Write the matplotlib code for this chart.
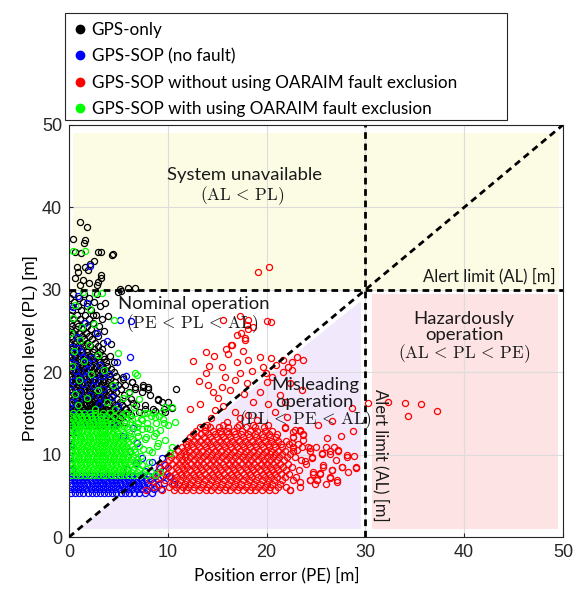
"""Stanford-style integrity diagram: PE vs PL for GPS-only and GPS-SOP."""
import numpy as np
import matplotlib
matplotlib.use("Agg")
import matplotlib.pyplot as plt
from matplotlib.lines import Line2D
from matplotlib.patches import Polygon, Rectangle

plt.rcParams["mathtext.fontset"] = "cm"

AL = 30.0
labels = [
    "GPS-only",
    "GPS-SOP (no fault)",
    "GPS-SOP without using OARAIM fault exclusion",
    "GPS-SOP with using OARAIM fault exclusion",
]
colors = ["black", "#0000ff", "#ff0000", "#00ff00"]

# dense parts of each cloud, read row by row: "PL: PE PE PE ..."
gps_only_rows = """
8.0: 0.1
9.0: 0.2
10.0: 0.1
11.0: 0.2
12.0: 0.1
13.0: 0.3
13.6: 0.2 0.6 1.1 1.6 2.0 2.5 3.0 3.5 4.1 4.8
14.0: 0.1 0.5 0.9 1.4 1.8 2.3 2.8 3.2 3.7 4.3 5.0 5.6
14.4: 0.3 0.7 1.2 1.6 2.1 2.5 3.0 3.4 3.9 4.5 5.2
14.8: 0.1 0.5 1.0 1.4 1.9 2.3 2.8 3.2 3.7 4.2 4.8 5.5 6.3
15.2: 0.3 0.7 1.2 1.6 2.1 2.5 3.0 3.5 4.0 4.6 5.3 6.0 7.1
15.6: 0.1 0.6 1.0 1.5 1.9 2.4 2.8 3.3 3.8 4.4 5.0 5.8 7.7 8.5 9.6
16.0: 0.3 0.8 1.2 1.7 2.1 2.6 3.0 3.5 4.1 4.7 5.4 6.8 7.7
16.4: 0.2 0.6 1.1 1.5 2.0 2.4 2.9 3.3 3.9 4.4 5.2 5.9 9.4 10.0
16.8: 0.4 0.8 1.3 1.7 2.2 2.6 3.1 3.6 4.2 4.9 6.3 9.0
17.2: 0.1 0.6 1.0 1.5 1.9 2.4 2.8 3.3 3.8 4.5 5.6 8.2
17.6: 0.3 0.8 1.2 1.7 2.1 2.6 3.1 3.6 4.1 4.8 6.1 7.4
18.0: 0.2 0.6 1.1 1.5 2.0 2.4 2.9 3.4 3.9 4.5 5.3 6.7 8.0 10.8
18.4: 0.4 0.9 1.3 1.8 2.2 2.7 3.2 3.7 4.3 5.0 5.7 7.5
18.8: 0.1 0.6 1.0 1.5 1.9 2.4 2.9 3.4 4.0 4.7 6.4
19.2: 0.3 0.8 1.2 1.7 2.1 2.6 3.1 3.6 4.2 5.5
19.6: 0.2 0.6 1.1 1.5 2.0 2.5 3.0 3.5 4.1 4.8
20.0: 0.4 0.9 1.3 1.8 2.3 2.8 3.3 3.9 4.6
20.4: 0.1 0.6 1.0 1.5 2.0 2.5 3.0 3.6 4.3
20.8: 0.3 0.8 1.3 1.7 2.2 2.7 3.3 3.9
21.2: 0.2 0.6 1.1 1.6 2.0 2.5 3.1 3.8 4.6
21.6: 0.4 0.9 1.4 1.9 2.4 2.9 3.6
22.0: 0.1 0.6 1.1 1.6 2.1 2.7 3.4 4.2
22.4: 0.3 0.8 1.3 1.8 2.4 3.1
22.8: 0.2 0.7 1.2 1.8 2.5 3.3
23.2: 0.4 0.9 1.5 2.1 2.9
23.6: 0.1 0.6 1.2 1.8 2.6 3.5
24.0: 0.3 0.9 1.5 2.3
24.4: 0.2 0.7 1.3 2.0 2.9
24.8: 0.4 1.0 1.7 2.6
25.2: 0.1 0.7 1.4 2.2
25.6: 0.3 0.9 1.8 3.0
26.0: 0.2 0.8 1.5 2.4
26.5: 0.4 1.1 2.0 3.3
27.0: 0.1 0.8 1.6 2.7
27.5: 0.3 1.2 2.2
28.0: 0.2 0.9 1.8 3.1
28.5: 0.5 1.4 2.5
29.0: 0.1 1.0 2.0
29.5: 0.4 1.5 2.8
"""
gps_only_extra = [
    (1.1, 38.2), (1.8, 37.6), (0.4, 36.2), (1.6, 36.0), (1.5, 35.7), (0.6, 34.6),
    (1.2, 34.5), (2.9, 34.6), (3.2, 34.6), (4.5, 34.3), (2.5, 33.5), (2.1, 33.1),
    (1.6, 32.8), (0.8, 32.8), (1.9, 32.4), (0.9, 32.2), (3.2, 31.8), (3.2, 31.4),
    (2.9, 30.9), (1.4, 31.2), (0.6, 31.4), (2.0, 30.8), (1.1, 30.6), (2.8, 30.6),
    (5.2, 30.1), (6.0, 30.2), (6.7, 30.2), (5.0, 29.7), (5.3, 29.9), (4.4, 34.2),
    (7.5, 18.2), (8.0, 18.2), (9.0, 16.6), (10.4, 15.7), (9.7, 15.2), (8.7, 15.3),
    (6.7, 18.2), (6.4, 18.8), (5.5, 19.4), (4.0, 26.8), (3.6, 25.0), (4.3, 23.4),
    (3.7, 28.4), (2.4, 26.9), (0.4, 15.4), (1.3, 15.8), (2.2, 15.5), (3.1, 15.9),
    (4.0, 15.4), (0.8, 16.2), (1.9, 16.6), (2.8, 16.1), (3.7, 16.7), (5.7, 15.6),
    (6.5, 16.3), (0.6, 14.6), (1.5, 14.2), (2.5, 14.7), (3.5, 14.1), (4.6, 14.9),
]

gps_sop_rows = """
5.4: 0.2 0.6 1.0 1.4 1.9 2.3 2.7 3.1 3.6 4.0 4.4 4.8 5.3 5.7 6.1 6.6 7.1 7.7 8.4
5.8: 0.1 0.5 0.9 1.3 1.7 2.2 2.6 3.0 3.4 3.9 4.3 4.7 5.1 5.6 6.0 6.4 6.9 7.3 7.9 8.6 9.3
6.2: 0.3 0.7 1.1 1.5 2.0 2.4 2.8 3.2 3.7 4.1 4.5 4.9 5.4 5.8 6.2 6.7 7.1 7.6 8.1 8.8
6.6: 0.2 0.6 1.0 1.4 1.8 2.3 2.7 3.1 3.5 4.0 4.4 4.8 5.2 5.7 6.1 6.5 7.0 7.4 7.9 8.5 9.6
7.0: 0.1 0.5 0.9 1.3 1.7 2.1 2.6 3.0 3.4 3.8 4.3 4.7 5.1 5.5 6.0 6.4 6.8 7.3 7.8 8.3 9.0
7.4: 0.3 0.7 1.2 1.6 2.0 2.5 2.9 3.3 3.8 4.2 4.6 5.1 5.5 5.9 6.4 6.9 7.5 8.1 8.7 9.5 10.1
"""
gps_sop_extra = [
    (2.1, 32.9), (0.8, 24.3), (5.2, 26.3), (6.3, 26.2), (6.5, 13.2), (6.9, 11.4),
    (7.4, 9.6), (8.4, 9.1), (9.4, 9.6), (9.7, 8.7), (6.2, 21.8), (4.7, 18.2),
    (0.3, 23.1), (1.2, 22.4), (2.3, 21.7), (0.6, 21.0), (1.7, 20.3), (3.1, 20.9),
    (0.9, 19.6), (2.6, 19.1), (4.1, 19.8), (1.4, 18.6), (3.4, 18.0), (0.2, 17.8),
    (2.1, 17.3), (4.4, 17.0), (1.0, 16.7), (3.0, 16.2), (5.0, 15.9), (0.5, 15.5),
    (1.9, 15.0), (3.7, 14.6), (2.6, 14.2), (1.3, 13.8), (4.6, 13.6), (0.7, 12.8),
    (5.5, 12.3), (6.2, 10.4), (6.8, 9.0), (5.9, 8.3), (7.7, 8.0), (8.9, 7.9),
    (9.2, 8.4), (10.3, 7.3), (10.6, 6.5), (0.4, 27.9), (1.6, 26.0), (2.8, 24.7),
    (3.9, 23.8), (0.9, 29.3), (1.8, 28.4), (5.8, 19.6), (4.9, 21.2),
    (0.2, 21.9), (0.7, 20.2), (1.9, 21.1), (0.4, 18.9), (1.1, 17.6), (2.4, 18.3),
    (0.3, 16.4), (1.6, 19.4), (3.3, 19.5), (0.9, 23.0), (0.1, 13.9), (0.2, 11.3),
    (0.1, 9.6), (0.3, 8.2), (3.1, 17.0), (1.4, 21.8),
]

no_exclusion_rows = """
5.7: 7.8 9.4 10.6 11.3 11.9 12.6 13.2 13.9 14.4 15.1 15.8 16.3 17.0 17.6 18.3 18.8 19.5 20.2 20.9 22.4
6.1: 8.6 10.1 10.8 11.5 12.1 12.7 13.4 14.0 14.7 15.3 15.9 16.6 17.2 17.9 18.5 19.1 19.8 20.4 21.2 22.0 23.4
6.5: 9.0 10.4 11.0 11.7 12.3 13.0 13.6 14.2 14.9 15.5 16.1 16.8 17.4 18.0 18.7 19.3 20.0 20.6 21.4 24.9 26.0
6.9: 8.2 9.7 10.6 11.2 11.8 12.5 13.1 13.8 14.4 15.0 15.7 16.3 16.9 17.6 18.2 18.9 19.5 20.1 20.8 21.6 22.7 24.4 25.1 27.1
7.3: 9.2 10.2 10.9 11.5 12.2 12.8 13.4 14.1 14.7 15.3 16.0 16.6 17.2 17.9 18.5 19.1 19.8 20.5 21.1 21.9 23.0 26.4
7.7: 8.9 9.9 10.7 11.3 11.9 12.6 13.2 13.8 14.5 15.1 15.7 16.4 17.0 17.7 18.3 18.9 19.6 20.2 20.9 21.5 22.3 24.7 25.4
8.1: 9.5 10.3 11.0 11.6 12.3 12.9 13.5 14.2 14.8 15.4 16.1 16.7 17.3 18.0 18.6 19.3 19.9 20.6 21.2 22.0 23.3 26.6
8.5: 9.1 10.0 10.8 11.4 12.0 12.7 13.3 13.9 14.6 15.2 15.8 16.5 17.1 17.8 18.4 19.0 19.7 20.3 21.0 21.7 22.6 25.7 27.6 29.1
8.9: 9.6 10.4 11.1 11.7 12.4 13.0 13.6 14.3 14.9 15.6 16.2 16.8 17.5 18.1 18.7 19.4 20.0 20.7 21.4 22.2 24.0
9.3: 10.1 10.8 11.4 12.0 12.7 13.3 14.0 14.6 15.2 15.9 16.5 17.1 17.8 18.4 19.1 19.7 20.4 21.1 21.8 23.5
9.7: 10.3 11.1 11.7 12.3 13.0 13.6 14.3 14.9 15.5 16.2 16.8 17.5 18.1 18.7 19.4 20.0 20.7 21.3 22.1 22.9 24.6 28.1
10.1: 10.6 11.3 11.9 12.6 13.2 13.9 14.5 15.1 15.8 16.4 17.1 17.7 18.3 19.0 19.6 20.3 20.9 21.6 22.4 25.6 26.4
10.5: 11.0 11.6 12.2 12.9 13.5 14.1 14.8 15.4 16.0 16.7 17.3 17.9 18.6 19.2 19.9 20.5 21.2 21.9 22.7 24.4 27.2
10.9: 11.4 12.0 12.6 13.2 13.9 14.5 15.1 15.8 16.4 17.0 17.7 18.3 18.9 19.6 20.2 20.9 21.6 22.7 23.6 24.2 25.0 26.0 26.8
11.3: 11.8 12.4 13.0 13.7 14.3 14.9 15.6 16.2 16.8 17.5 18.1 18.8 19.4 20.1 20.8 21.5 22.3 23.2
11.7: 12.1 12.7 13.3 14.0 14.6 15.3 15.9 16.5 17.2 17.8 18.5 19.1 19.8 20.5 21.2 22.0
12.1: 12.3 13.0 13.7 14.3 15.0 15.6 16.3 16.9 17.6 18.2 18.9 19.6 20.3 21.0 22.7
12.5: 12.6 13.4 14.1 14.8 15.4 16.1 16.8 17.4 18.1 18.8 19.5 20.2 21.1 23.7
12.9: 12.9 13.8 14.6 15.3 16.0 16.7 17.5 18.3 19.0 19.8 20.6 23.4
13.3: 13.3 14.3 15.2 16.1 17.0 17.9 18.8 19.7 21.9
13.6: 14.0 15.6 17.2 18.6 20.1
"""
no_exclusion_extra = [
    (19.1, 32.2), (20.2, 32.8), (15.6, 26.3), (17.3, 26.8), (18.1, 26.3), (20.0, 26.2),
    (20.5, 26.1), (18.0, 25.7), (18.6, 25.5), (18.1, 25.2), (17.4, 24.8), (17.0, 24.5),
    (17.8, 24.2), (17.8, 23.9), (16.5, 23.3), (15.9, 22.8), (13.9, 22.5), (16.4, 23.3),
    (16.1, 22.2), (14.2, 20.8), (13.9, 19.9), (15.5, 20.6), (17.0, 21.2), (18.1, 21.5),
    (19.3, 21.9), (20.5, 21.7), (21.0, 20.9), (19.9, 19.9), (18.5, 20.1), (18.0, 18.7),
    (16.8, 19.1), (16.3, 17.8), (15.5, 18.2), (14.6, 17.6), (15.1, 16.9), (14.1, 18.4),
    (15.8, 19.4), (17.3, 19.9), (19.3, 17.6), (20.0, 18.8), (21.7, 21.5), (22.6, 21.2),
    (23.1, 21.9), (23.7, 21.5), (22.6, 20.3), (20.9, 15.2), (22.1, 14.6), (17.3, 14.4),
    (18.1, 14.8), (16.8, 15.2), (14.8, 15.4), (16.0, 14.0), (13.8, 13.4), (19.0, 14.2),
    (22.9, 13.0), (23.7, 11.8), (22.2, 20.6), (22.4, 18.7), (21.7, 20.0), (28.6, 15.7),
    (30.3, 16.3), (32.3, 16.4), (34.0, 16.3), (35.6, 16.2), (34.3, 14.7), (37.3, 15.3),
    (22.7, 10.9), (24.4, 10.8), (25.6, 10.2), (26.4, 10.4), (27.2, 10.6), (28.1, 10.0),
    (28.2, 7.9), (29.1, 8.4), (27.1, 6.7), (26.4, 7.2), (25.1, 6.9), (24.4, 6.9),
    (23.4, 6.7), (22.4, 5.7), (25.7, 8.7), (26.6, 8.1), (27.6, 8.5), (25.4, 7.8),
    (24.7, 7.9), (23.4, 13.0), (22.7, 12.7), (21.9, 13.2), (23.7, 12.4), (22.7, 12.1),
    (12.6, 21.4), (13.2, 18.9), (14.7, 22.0), (17.6, 22.6), (19.6, 20.6), (20.6, 19.4),
    (21.4, 17.3), (18.6, 16.4), (17.7, 17.4), (13.3, 16.2), (12.3, 15.6), (14.4, 14.4),
    (15.6, 15.9), (20.1, 16.2), (21.9, 16.4), (23.6, 17.9), (26.6, 14.1), (25.2, 13.6),
    (27.5, 12.3), (28.7, 12.9), (26.1, 12.0), (24.6, 9.6), (27.0, 9.3), (28.9, 9.9),
    (23.9, 9.2), (22.6, 11.4), (23.1, 10.6),
]

with_exclusion_rows = """
7.5: 0.2 0.7 1.1 1.6 2.0 2.5 2.9 3.4 3.8 4.3 4.7 5.2 5.6 6.1 6.6 7.2 7.9 8.7
7.9: 0.4 0.8 1.3 1.7 2.2 2.6 3.1 3.5 4.0 4.4 4.9 5.3 5.8 6.3 6.9 7.6 8.3 9.2
8.3: 0.1 0.6 1.0 1.5 1.9 2.4 2.8 3.3 3.7 4.2 4.6 5.1 5.5 6.0 6.5 7.1 7.8
8.7: 0.3 0.8 1.2 1.7 2.1 2.6 3.0 3.5 3.9 4.4 4.8 5.3 5.7 6.2 6.8 7.4
9.1: 0.2 0.6 1.1 1.5 2.0 2.4 2.9 3.3 3.8 4.2 4.7 5.1 5.6 6.0 6.6 7.0 8.1
9.5: 0.4 0.9 1.3 1.8 2.2 2.7 3.1 3.6 4.0 4.5 4.9 5.4 5.8 6.3 6.9
9.9: 0.1 0.6 1.0 1.5 1.9 2.4 2.8 3.3 3.7 4.2 4.6 5.1 5.5 6.0 6.5 7.3
10.3: 0.3 0.8 1.2 1.7 2.1 2.6 3.0 3.5 3.9 4.4 4.8 5.3 5.7 6.2 6.7 8.4
10.7: 0.2 0.6 1.1 1.5 2.0 2.4 2.9 3.3 3.8 4.2 4.7 5.1 5.6 6.0 6.6 7.5
11.1: 0.4 0.9 1.3 1.8 2.2 2.7 3.1 3.6 4.0 4.5 4.9 5.4 5.8 6.4 7.1 8.9
11.5: 0.1 0.6 1.0 1.5 1.9 2.4 2.8 3.3 3.7 4.2 4.6 5.1 5.5 6.0 6.8
11.9: 0.3 0.8 1.2 1.7 2.1 2.6 3.0 3.5 3.9 4.4 4.8 5.3 5.8 6.4 7.7
12.3: 0.2 0.6 1.1 1.5 2.0 2.4 2.9 3.3 3.8 4.2 4.7 5.1 5.7 6.2 7.0 8.6
12.7: 0.4 0.9 1.3 1.8 2.2 2.7 3.1 3.6 4.0 4.5 4.9 5.5 6.1 6.9
13.1: 0.1 0.6 1.0 1.5 1.9 2.4 2.8 3.3 3.7 4.2 4.7 5.3 5.9 7.4 8.2
13.5: 0.3 0.8 1.2 1.7 2.1 2.6 3.0 3.5 3.9 4.4 5.0 5.6 6.6
13.9: 0.2 0.6 1.1 1.5 2.0 2.4 2.9 3.3 3.8 4.3 4.9 5.8 7.0 7.9 8.8 9.6
14.3: 0.4 0.9 1.3 1.8 2.3 2.8 3.2 3.7 4.3 5.1 6.4 7.3
14.7: 0.2 0.7 1.2 1.7 2.2 2.6 3.2 3.8 4.6 5.4 6.2 8.3 9.1
15.1: 0.4 1.0 1.5 2.1 2.6 3.4 4.2 5.7 6.7 7.6
"""
with_exclusion_extra = [
    (0.4, 34.7), (1.6, 34.7), (1.4, 29.7), (2.6, 29.6), (3.3, 29.6), (0.6, 28.2),
    (2.1, 27.7), (4.6, 26.3), (7.9, 15.0), (8.5, 15.0), (9.4, 15.2), (10.4, 15.8),
    (9.7, 15.8), (8.7, 14.6), (7.4, 14.2), (6.9, 13.4), (7.9, 13.2), (9.2, 13.0),
    (10.0, 13.6), (10.7, 14.0), (9.7, 11.8), (9.0, 11.4), (10.4, 10.9), (10.2, 10.2),
    (6.9, 19.7), (6.7, 19.9), (5.0, 22.3), (0.2, 24.8), (1.1, 23.9), (2.0, 23.3),
    (0.5, 22.6), (2.9, 22.1), (1.5, 21.4), (0.3, 20.7), (3.6, 20.3), (2.2, 19.8),
    (1.0, 19.0), (4.5, 18.5), (2.9, 17.9), (0.6, 17.4), (1.8, 16.9), (3.9, 16.4),
    (5.5, 16.9), (6.1, 17.5), (0.9, 16.0), (2.6, 15.6), (4.7, 15.5), (5.8, 14.9),
    (6.6, 15.8), (7.1, 16.8), (0.4, 26.6), (1.3, 25.5), (2.5, 25.9), (8.1, 10.6),
    (7.8, 12.1), (8.8, 12.6), (9.5, 14.3), (6.2, 14.0),
]


def read_cloud(rows, extra):
    pe, pl = [], []
    for line in rows.strip().splitlines():
        y, xs = line.split(":")
        for x in xs.split():
            pe.append(float(x))
            pl.append(float(y))
    for x, y in extra:
        pe.append(x)
        pl.append(y)
    return np.array(pe), np.array(pl)


clouds = [
    read_cloud(gps_only_rows, gps_only_extra),
    read_cloud(gps_sop_rows, gps_sop_extra),
    read_cloud(no_exclusion_rows, no_exclusion_extra),
    read_cloud(with_exclusion_rows, with_exclusion_extra),
]

fig = plt.figure(figsize=(5.84, 5.89), dpi=100)
ax = fig.add_axes([0.118, 0.088, 0.846, 0.700])

# region shading
ax.add_patch(Rectangle((0.4, AL), 49.2, 19.0, color="#fcfce4", lw=0, zorder=0))
ax.add_patch(Rectangle((30.7, 1.0), 18.8, 28.5, color="#fde3e3", lw=0, zorder=0))
ax.add_patch(Polygon([(0.9, 1.0), (29.6, 1.0), (29.6, 28.6)], closed=True,
                     color="#f1e8fb", lw=0, zorder=0))

for (pe, pl), c in zip(clouds, colors):
    ax.plot(pe, pl, "o", ls="none", ms=4.4, mfc="none", mec=c, mew=0.9, zorder=2)

dash = dict(color="black", lw=2.0, dashes=(2.4, 1.7), zorder=3)
ax.plot([0, 50], [0, 50], **dash)
ax.plot([AL, AL], [0, 50], **dash)
ax.plot([0, 50], [AL, AL], **dash)

tf = dict(family="Lato", fontsize=13.3, color="#1a1a1a", ha="center", va="center", zorder=4)
mf = dict(fontsize=12.4, color="#1a1a1a", ha="center", va="center", zorder=4)
ax.text(17.8, 43.9, "System unavailable", **tf)
ax.text(17.5, 41.4, r"$(\mathrm{AL}\,<\,\mathrm{PL})$", **mf)
ax.text(12.6, 28.3, "Nominal operation", **tf)
ax.text(12.5, 25.9, r"$(\mathrm{PE}\,<\,\mathrm{PL}\,<\,\mathrm{AL})$", **mf)
ax.text(24.9, 18.4, "Misleading", **tf)
ax.text(24.8, 16.4, "operation", **tf)
ax.text(23.9, 14.2, r"$(\mathrm{PL}\,<\,\mathrm{PE}\,<\,\mathrm{AL})$", **mf)
ax.text(40.0, 26.5, "Hazardously", **tf)
ax.text(40.0, 24.5, "operation", **tf)
ax.text(40.0, 22.2, r"$(\mathrm{AL}\,<\,\mathrm{PL}\,<\,\mathrm{PE})$", **mf)
ax.text(49.3, 31.6, "Alert limit (AL) [m]", family="Lato", fontsize=12,
        color="#1a1a1a", ha="right", va="center", zorder=4)
ax.text(31.6, 9.9, "Alert limit (AL) [m]", family="Lato", fontsize=12,
        color="#1a1a1a", ha="center", va="center", rotation=270, zorder=4)

ax.set_xlim(0, 50)
ax.set_ylim(0, 50)
ax.set_xticks(range(0, 51, 10))
ax.set_yticks(range(0, 51, 10))
ax.set_axisbelow(True)
ax.grid(True, color="#dcdcdc", lw=0.8)
ax.tick_params(direction="in", length=3, width=0.8, colors="#262626",
               labelsize=13, pad=5)
for lab in ax.get_xticklabels() + ax.get_yticklabels():
    lab.set_family("Liberation Sans")
for s in ax.spines.values():
    s.set_color("#262626")
    s.set_linewidth(0.8)
ax.set_xlabel("Position error (PE) [m]", family="Lato", fontsize=12.3)
ax.set_ylabel("Protection level (PL) [m]", family="Liberation Sans", fontsize=12.5)
ax.xaxis.set_label_coords(0.421, -0.073)
ax.yaxis.set_label_coords(-0.063, 0.459)

# legend box is wider than its entries, as in the source figure
fig.patches.append(Rectangle((65 / 584, 1 - 120 / 589), 442 / 584, 107 / 589,
                             transform=fig.transFigure, fill=True, fc="white",
                             ec="#262626", lw=0.8, zorder=5))
handles = [Line2D([], [], ls="none", marker="o", ms=6, mfc=c, mec=c) for c in colors]
leg = fig.legend(handles, labels, loc="upper left", bbox_to_anchor=(65 / 584, 1 - 13 / 589),
                 prop={"family": "Lato", "size": 12.3}, frameon=False,
                 handletextpad=0.26, handlelength=0.8, borderpad=0.5, labelspacing=0.62,
                 borderaxespad=0)
leg.set_zorder(6)

fig.savefig("out.png", dpi=100)
